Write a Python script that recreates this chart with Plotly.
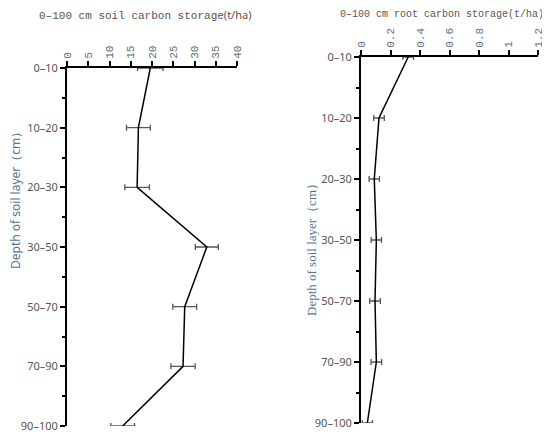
import plotly.graph_objects as go

# depth layers and carbon storage
layers = ["0–10", "10–20", "20–30", "30–50", "50–70", "70–90", "90–100"]
soil_c = [19.6, 16.8, 16.5, 32.9, 27.7, 27.3, 13.1]
soil_err = [3.0, 2.8, 2.9, 2.7, 2.8, 2.85, 2.8]
root_c = [0.32, 0.122, 0.09, 0.104, 0.095, 0.104, 0.043]
root_err = [0.036, 0.036, 0.035, 0.035, 0.036, 0.036, 0.035]

soil_ticks = [0, 5, 10, 15, 20, 25, 30, 35, 40]
root_ticks = [0, 0.2, 0.4, 0.6, 0.8, 1, 1.2]
root_ticktext = ["0", "0.2", "0.4", "0.6", "0.8", "1", "1.2"]

pos = list(range(len(layers)))
mid = [p + 0.5 for p in pos[:-1]]

W, H = 550, 436
OFF = 8  # page body margin shifts the figure


def px(x):
    return (x - OFF) / W


def py(y):
    return 1 - (y - OFF) / H


fig = go.Figure()
fig.add_trace(go.Scatter(
    x=soil_c, y=pos, mode="lines",
    line=dict(color="black", width=1.5),
    error_x=dict(type="data", array=soil_err, color="#555555", thickness=1.3, width=3),
    xaxis="x", yaxis="y", cliponaxis=False
))
fig.add_trace(go.Scatter(
    x=root_c, y=pos, mode="lines",
    line=dict(color="black", width=1.5),
    error_x=dict(type="data", array=root_err, color="#555555", thickness=1.3, width=3),
    xaxis="x2", yaxis="y2", cliponaxis=False
))

xcommon = dict(
    side="top", showgrid=False, zeroline=False, showline=True, automargin=False,
    linecolor="black", linewidth=2, ticks="outside", ticklen=5,
    tickwidth=1.5, tickcolor="black", tickangle=-90,
    tickfont=dict(family="Liberation Mono", size=11, color="#5f6f80"),
)
ycommon = dict(
    showgrid=False, zeroline=False, showline=True, linecolor="black", automargin=False,
    linewidth=2, ticks="outside", ticklen=5, tickwidth=1.5, tickcolor="black",
    tickmode="array", tickvals=pos, ticktext=layers, range=[6, 0],
    tickfont=dict(family="Noto Sans", size=11, color="#555555"),
    minor=dict(tickmode="array", tickvals=mid, ticks="outside", ticklen=3,
               tickwidth=1.5, tickcolor="black"),
)

fig.update_layout(
    width=W, height=H,
    margin=dict(l=0, r=0, t=0, b=0),
    paper_bgcolor="white", plot_bgcolor="white",
    showlegend=False,
    xaxis=dict(xcommon, domain=[px(67), px(237)], range=[0, 40],
               tickmode="array", tickvals=soil_ticks, anchor="y"),
    yaxis=dict(ycommon, domain=[py(426), py(68)], anchor="x"),
    xaxis2=dict(xcommon, domain=[px(361), px(538)], range=[0, 1.2],
                tickmode="array", tickvals=root_ticks, ticktext=root_ticktext,
                anchor="y2"),
    yaxis2=dict(ycommon, domain=[py(423), py(57)], anchor="x2"),
    annotations=[
        dict(text="0–100 cm soil carbon storage<span style='font-family:Noto Sans'>(t/ha)</span>",
             x=px(145), y=py(14), xref="paper", yref="paper", showarrow=False,
             xanchor="center", yanchor="middle",
             font=dict(family="Liberation Mono", size=11, color="#555555")),
        dict(text="0–100 cm root carbon storage(t/ha)",
             x=px(442), y=py(14), xref="paper", yref="paper", showarrow=False,
             xanchor="center", yanchor="middle",
             font=dict(family="Liberation Mono", size=10, color="#555555")),
        dict(text="Depth of soil layer（cm）", textangle=-90,
             x=px(16), y=py(198), xref="paper", yref="paper", showarrow=False,
             xanchor="center", yanchor="middle",
             font=dict(family="Noto Sans", size=12, color="#557390")),
        dict(text="Depth of soil layer（cm）", textangle=-90,
             x=px(311), y=py(247), xref="paper", yref="paper", showarrow=False,
             xanchor="center", yanchor="middle",
             font=dict(family="Liberation Serif", size=13, color="#557390")),
    ],
)

fig.write_html("out.html")
